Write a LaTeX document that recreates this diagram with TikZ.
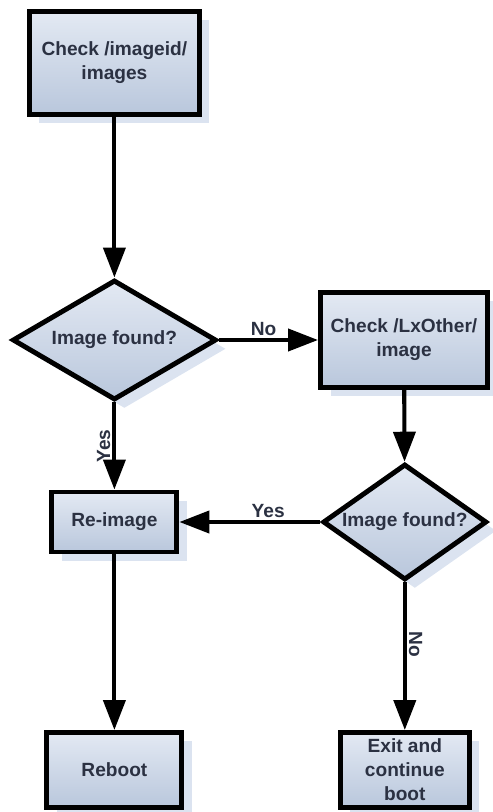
\documentclass[tikz,border=0pt]{standalone}
\usepackage{fontspec}
\setmainfont{Liberation Sans}
\usetikzlibrary{shapes.geometric, arrows.meta, shadows}
\definecolor{boxtop}{HTML}{E3E9F3}
\definecolor{boxbot}{HTML}{B9C7DC}
\definecolor{shadeblue}{HTML}{DBE3F0}
\definecolor{ink}{HTML}{2B3142}

\begin{document}
\begin{tikzpicture}[
        font=\fontsize{13.6}{17}\selectfont\bfseries,
        box/.style={draw=black, line width=3.5pt, top color=boxtop, bottom color=boxbot,
            text=ink, align=center, inner sep=2pt,
            drop shadow={fill=shadeblue, opacity=1, shadow xshift=0.25cm, shadow yshift=-0.22cm}},
        decision/.style={box, shape=diamond, aspect=1.7, inner sep=0pt},
        flow/.style={-{Triangle[length=0.75cm, width=0.55cm]}, line width=2.9pt},
        lbl/.style={text=ink, inner sep=1.5pt}
    ]
        \useasboundingbox (0,0) rectangle (12.3,-20.3);
        \node[box, minimum width=4.25cm, minimum height=2.575cm] (chkimg) at (2.86,-1.575) {Check /imageid/\\images};
        \node[decision, minimum width=5.1cm, minimum height=3.0cm] (found1) at (2.86,-8.5) {Image found?};
        \node[box, minimum width=4.175cm, minimum height=2.375cm] (chklx) at (10.1,-8.5) {Check /LxOther/\\image};
        \node[decision, minimum width=4.1cm, minimum height=2.9cm] (found2) at (10.12,-13.05) {Image found?};
        \node[box, minimum width=3.125cm, minimum height=1.5cm] (reimage) at (2.86,-13.05) {Re-image};
        \node[box, minimum width=3.375cm, minimum height=1.875cm] (reboot) at (2.86,-19.25) {Reboot};
        \node[box, minimum width=3.225cm, minimum height=1.875cm] (exitboot) at (10.12,-19.25) {Exit and\\continue\\boot};
        \draw[flow] (chkimg) -- (found1);
        \draw[flow] (found1) -- node[lbl, pos=0.45, above] {No} (chklx);
        \draw[flow] (found1) -- node[lbl, pos=0.5, rotate=90, above] {Yes} (reimage);
        \draw[flow] (chklx) -- (found2);
        \draw[flow] (found2) -- node[lbl, pos=0.37, above] {Yes} (reimage);
        \draw[flow] (found2) -- node[lbl, pos=0.42, rotate=-90, above] {No} (exitboot);
        \draw[flow] (reimage) -- (reboot);
    \end{tikzpicture}
\end{document}
